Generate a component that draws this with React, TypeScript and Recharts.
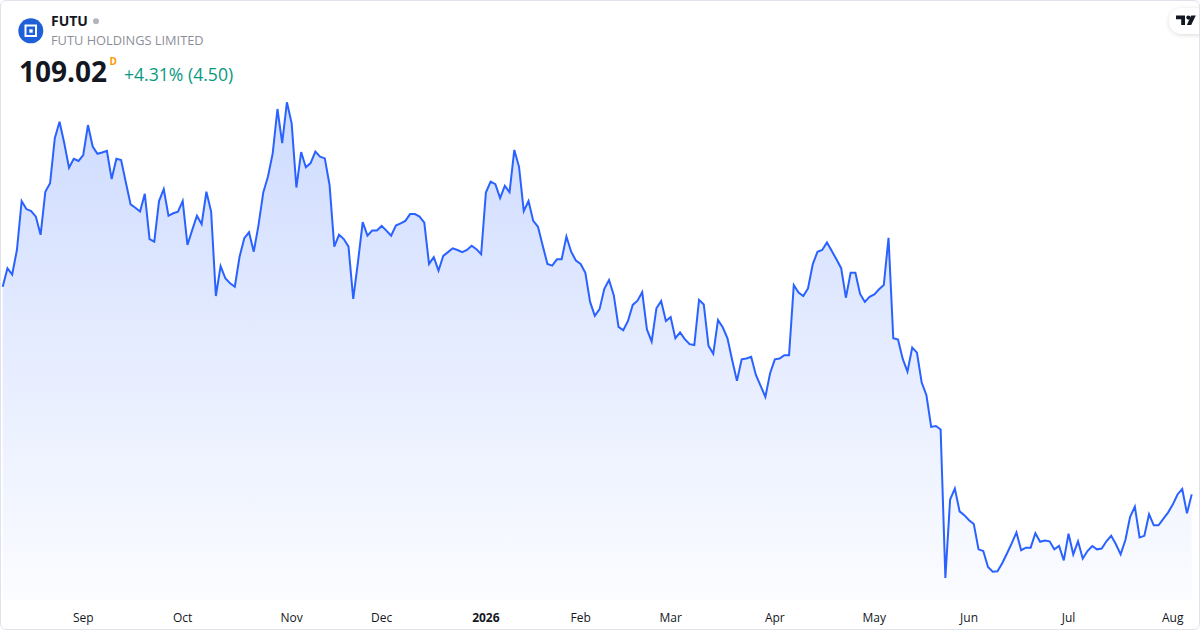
import React from "react";
import { AreaChart, Area, XAxis, YAxis } from "recharts";

// daily closes, Aug 2025 -> Aug 2026
const prices = [
  158.2, 162.6, 161.1, 166.9, 178.5, 176.6, 176.1, 174.8, 170.5, 180.7,
  182.7, 193.4, 197.3, 192.2, 186.4, 188.5, 188.0, 189.4, 196.5, 191.4,
  189.7, 190.0, 190.4, 183.7, 188.5, 188.2, 182.9, 177.7, 176.9, 176.0,
  180.2, 169.5, 168.9, 178.5, 181.3, 175.0, 175.6, 176.0, 178.5, 168.1,
  171.6, 175.0,
  173.0, 180.7, 176.0, 156.0, 163.1, 160.2, 159.0, 158.2, 165.3, 169.7,
  171.1, 166.5, 172.8, 180.5, 184.3, 189.8, 200.3, 192.2, 201.9, 196.9,
  181.7, 190.1, 186.5, 187.5, 190.2, 189.0, 188.6, 182.3, 167.7, 170.5,
  169.5, 167.7, 155.3, 164.1, 173.5, 170.3, 171.5, 171.5, 172.6, 171.5,
  170.3,
  172.7, 173.2, 173.8, 175.4, 175.4, 174.8, 173.4, 163.6, 165.2, 162.0,
  165.5, 166.4, 167.3, 166.9, 166.4, 166.9, 167.9, 167.1, 165.9, 180.5,
  183.1, 182.5, 179.2, 182.1, 180.6, 190.6, 186.6, 176.1, 178.5, 173.8,
  172.4, 167.9, 163.6, 163.2, 164.7, 164.7, 170.1, 166.5, 164.4, 163.6,
  161.5,
  154.6, 151.3, 152.9, 157.7, 159.8, 156.2, 148.7, 147.9, 150.1, 153.9,
  154.9, 156.9, 148.1, 145.2, 153.1, 154.8, 150.1, 151.0, 146.0, 147.4,
  145.8, 144.6, 144.4, 155.1, 154.0, 144.2, 142.3, 150.3, 148.6, 146.0,
  140.8, 135.9, 141.0, 141.2, 141.6, 137.3, 134.7, 132.1, 137.7, 141.0,
  141.2, 142.0, 142.0,
  158.6, 156.8, 156.0, 157.8, 163.5, 166.5, 166.9, 168.7, 166.7, 164.7,
  162.6, 155.6, 161.5, 161.5, 156.5, 154.6, 155.8, 156.4, 157.6, 158.6,
  169.8, 146.0, 145.7, 141.1, 138.1, 143.8, 142.6, 135.5, 132.5, 125.0,
  125.2, 124.4, 89.2, 107.8, 110.4, 105.0, 104.1, 102.9, 102.0, 96.0,
  95.6, 91.8, 90.7, 90.8,
  92.7, 95.0, 97.4, 100.0, 95.8, 96.4, 96.4, 99.8, 97.8, 98.1,
  97.9, 96.0, 96.8, 93.4, 99.7, 94.8, 97.9, 93.8, 95.6, 96.8,
  96.0, 96.2, 97.9, 99.2, 97.2, 94.8, 98.2, 103.7, 106.1, 98.8,
  99.2, 104.3, 101.7, 101.7, 103.2, 104.7, 106.6, 109.0, 110.3, 104.52,
  109.02,
];

const tickIndex = [17, 38, 61, 80, 102, 122, 141, 163, 184, 204, 225, 247];
const tickLabels = ["Sep", "Oct", "Nov", "Dec", "2026", "Feb", "Mar", "Apr", "May", "Jun", "Jul", "Aug"];

const data = prices.map((p, i) => ({ i, p }));
const FONT = '"Open Sans", "Noto Sans", Arial, sans-serif';

function MonthTick(props: any) {
  const { x, y, payload } = props;
  const label = tickLabels[tickIndex.indexOf(payload.value)] ?? "";
  return (
    <text
      x={x}
      y={y + 21.5}
      textAnchor="middle"
      fontSize={12}
      fontFamily={FONT}
      fontWeight={label === "2026" ? 700 : 400}
      fill="#131722"
    >
      {label}
    </text>
  );
}

export default function App() {
  return (
    <div
      style={{
        position: "relative",
        width: 1200,
        height: 630,
        background: "#fff",
        overflow: "hidden",
        fontFamily: FONT,
      }}
    >
      <style>{`body{margin:0}`}</style>
      <AreaChart
        width={1200}
        height={630}
        data={data}
        margin={{ top: 90, right: 8.3, bottom: 0, left: 2.7 }}
      >
        <defs>
          <linearGradient id="fill" x1="0" y1="0" x2="0" y2="1">
            <stop offset="0%" stopColor="#2962ff" stopOpacity={0.38} />
            <stop offset="50%" stopColor="#2962ff" stopOpacity={0.2} />
            <stop offset="100%" stopColor="#2962ff" stopOpacity={0.03} />
          </linearGradient>
        </defs>
        <XAxis
          dataKey="i"
          type="number"
          domain={[0, prices.length - 1]}
          ticks={tickIndex}
          tick={<MonthTick />}
          axisLine={false}
          tickLine={false}
          tickSize={0}
          tickMargin={0}
          height={30}
          interval={0}
        />
        <YAxis hide domain={[84, 204.8]} />
        <Area
          type="linear"
          dataKey="p"
          stroke="#2962ff"
          strokeWidth={2}
          fill="url(#fill)"
          dot={false}
          activeDot={false}
          isAnimationActive={false}
        />
      </AreaChart>

      {/* header */}
      <svg
        width={1200}
        height={100}
        style={{ position: "absolute", left: 0, top: 0 }}
        fontFamily={FONT}
      >
        <defs>
          <filter id="badgeShadow" x="-50%" y="-50%" width="200%" height="200%">
            <feDropShadow dx="0" dy="1" stdDeviation="2" floodColor="#000" floodOpacity="0.15" />
          </filter>
        </defs>
        <circle cx={30.8} cy={30.8} r={12.5} fill="#1f5fd8" />
        <path d="M25.5 25.5h10.5v10.5h-10.5z" fill="none" stroke="#fff" strokeWidth={2} />
        <rect x={29.3} y={29.3} width={3.4} height={3.4} fill="#fff" />
        <text x={51} y={26} fontSize={14} fontWeight={700} fill="#131722">FUTU</text>
        <circle cx={96} cy={21.3} r={3} fill="#b2b5be" />
        <text x={51} y={45} fontSize={12.8} fill="#8c8f99">FUTU HOLDINGS LIMITED</text>
        <text x={19} y={82} fontSize={28} fontWeight={700} fill="#131722">109.02</text>
        <text x={109.5} y={65} fontSize={10} fontWeight={700} fill="#ff9800">D</text>
        <text x={124} y={81} fontSize={17.6} fill="#089981">+4.31% (4.50)</text>

        {/* TradingView badge */}
        <rect x={1169} y={8} width={50} height={26} rx={13} fill="#fff" filter="url(#badgeShadow)" />
        <path d="M1176 15.5h9v9.5h-3.8v-5.7h-5.2z" fill="#131722" />
        <circle cx={1188.4} cy={17.6} r={2.1} fill="#131722" />
        <path d="M1191.2 15.5h4.6l-4.6 9.5h-4.4z" fill="#131722" />
      </svg>

      {/* card border */}
      <div
        style={{
          position: "absolute",
          inset: 0,
          border: "1px solid #e0e3eb",
          borderRadius: 6,
          pointerEvents: "none",
        }}
      />
    </div>
  );
}
